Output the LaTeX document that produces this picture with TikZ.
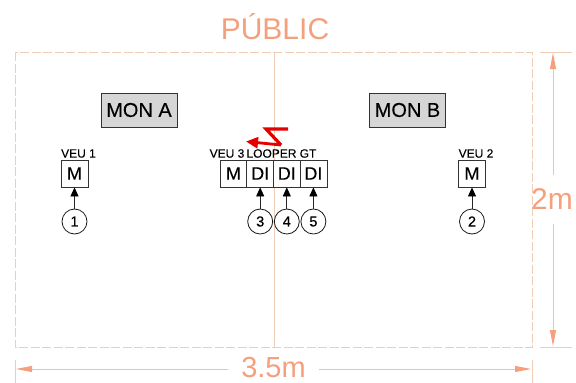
\documentclass[tikz,border=0pt]{standalone}
\usepackage{fontspec}
\setmainfont{Liberation Sans}
\usetikzlibrary{arrows.meta}
\definecolor{dimc}{RGB}{244,160,125}
\definecolor{roomc}{RGB}{240,205,185}
\definecolor{monfill}{RGB}{214,214,214}
\definecolor{dimline}{RGB}{246,190,165}
\tikzset{
  mon/.style={draw=black!80,fill=monfill,line width=0.8pt,minimum width=76pt,minimum height=34pt,inner sep=0pt,font=\fontsize{20}{20}\selectfont\addfontfeature{FakeBold=0.2}},
  inbox/.style={draw=black!80,fill=white,line width=0.8pt,minimum width=27pt,minimum height=27pt,inner sep=0pt,font=\fontsize{18}{18}\selectfont\addfontfeature{FakeBold=0.2}},
  num/.style={circle,draw=black!90,fill=white,line width=0.8pt,minimum size=25pt,inner sep=0pt,font=\fontsize{14.5}{15}\selectfont\addfontfeature{FakeBold=0.5}},
  lab/.style={inner sep=0pt,font=\fontsize{12}{12}\selectfont\addfontfeature{FakeBold=0.2}},
  conn/.style={draw=black!85,line width=0.8pt,-{Triangle[length=9pt,width=8pt,color=black]}},
  dimtext/.style={text=dimc,inner sep=0pt,font=\fontsize{30}{30}\selectfont},
  wtext/.style={text=dimc,inner sep=0pt,font=\fontsize{29}{29}\selectfont},
  dimarrow/.style={draw=dimline,line width=0.9pt,-{Triangle[length=16pt,width=6pt,color=dimc]}},
  ext/.style={draw=roomc,line width=0.8pt},
  room/.style={draw=roomc,line width=0.8pt,dash pattern=on 9pt off 2.5pt}
}
\begin{document}
\begin{tikzpicture}[x=1pt,y=-1pt]
\useasboundingbox (0,0) rectangle (576,383);
\draw[room] (15,52) rectangle (532,347);
\draw[ext] (274,52) -- (274,347);
\node[dimtext] (pub) at (275,27) {PÚBLIC};
\node[mon] (mona) at (139,110) {MON A};
\node[mon] (monb) at (407.5,110) {MON B};
\node[inbox] (v1) at (74.5,173.5) {M};
\node[inbox] (v2) at (472,173.5) {M};
\node[inbox] (v3) at (233.5,173.5) {M};
\node[inbox] (d1) at (260.2,173.5) {DI};
\node[inbox] (d2) at (286.8,173.5) {DI};
\node[inbox] (d3) at (313.4,173.5) {DI};
\node[lab] (lv1) at (78.5,153.5) {VEU 1};
\node[lab] (lv2) at (476,153.5) {VEU 2};
\node[lab] (lv3) at (227,153.5) {VEU 3};
\node[lab] (ll) at (271.5,153.5) {LOOPER};
\node[lab] (lg) at (308,153.5) {GT};
\node[num] (n1) at (74.5,221.5) {1};
\node[num] (n2) at (472,221.5) {2};
\node[num] (n3) at (260.2,221.5) {3};
\node[num] (n4) at (286.8,221.5) {4};
\node[num] (n5) at (313.4,221.5) {5};
\draw[conn] (n1) -- (v1);
\draw[conn] (n2) -- (v2);
\draw[conn] (n3) -- (d1);
\draw[conn] (n4) -- (d2);
\draw[conn] (n5) -- (d3);
\coordinate (zs) at (288,129);
\coordinate (za) at (266,129);
\coordinate (zc) at (281,145);
\coordinate (zd) at (246,141.5);
\draw[red!90!black,line width=3.2pt,line join=miter] (zs) -- (za) -- (zc);
\draw[red!90!black,line width=2.8pt,-{Triangle[length=12pt,width=11pt]}] (zc) -- (zd);
\node[wtext] (w) at (273.5,367.5) {3.5m};
\node[dimtext] (h) at (552,199) {2m};
\coordinate (dl) at (16,369);
\coordinate (dr) at (531,369);
\coordinate (dt) at (553,53);
\coordinate (db) at (553,346);
\draw[dimarrow] (228,369) -- (dl);
\draw[dimarrow] (319,369) -- (dr);
\draw[dimarrow] (553,175) -- (dt);
\draw[dimarrow] (553,224) -- (db);
\draw[ext] (15,360) -- (15,383);
\draw[ext] (532,360) -- (532,383);
\draw[ext] (540,52) -- (572,52);
\draw[ext] (540,347) -- (572,347);
\end{tikzpicture}
\end{document}
